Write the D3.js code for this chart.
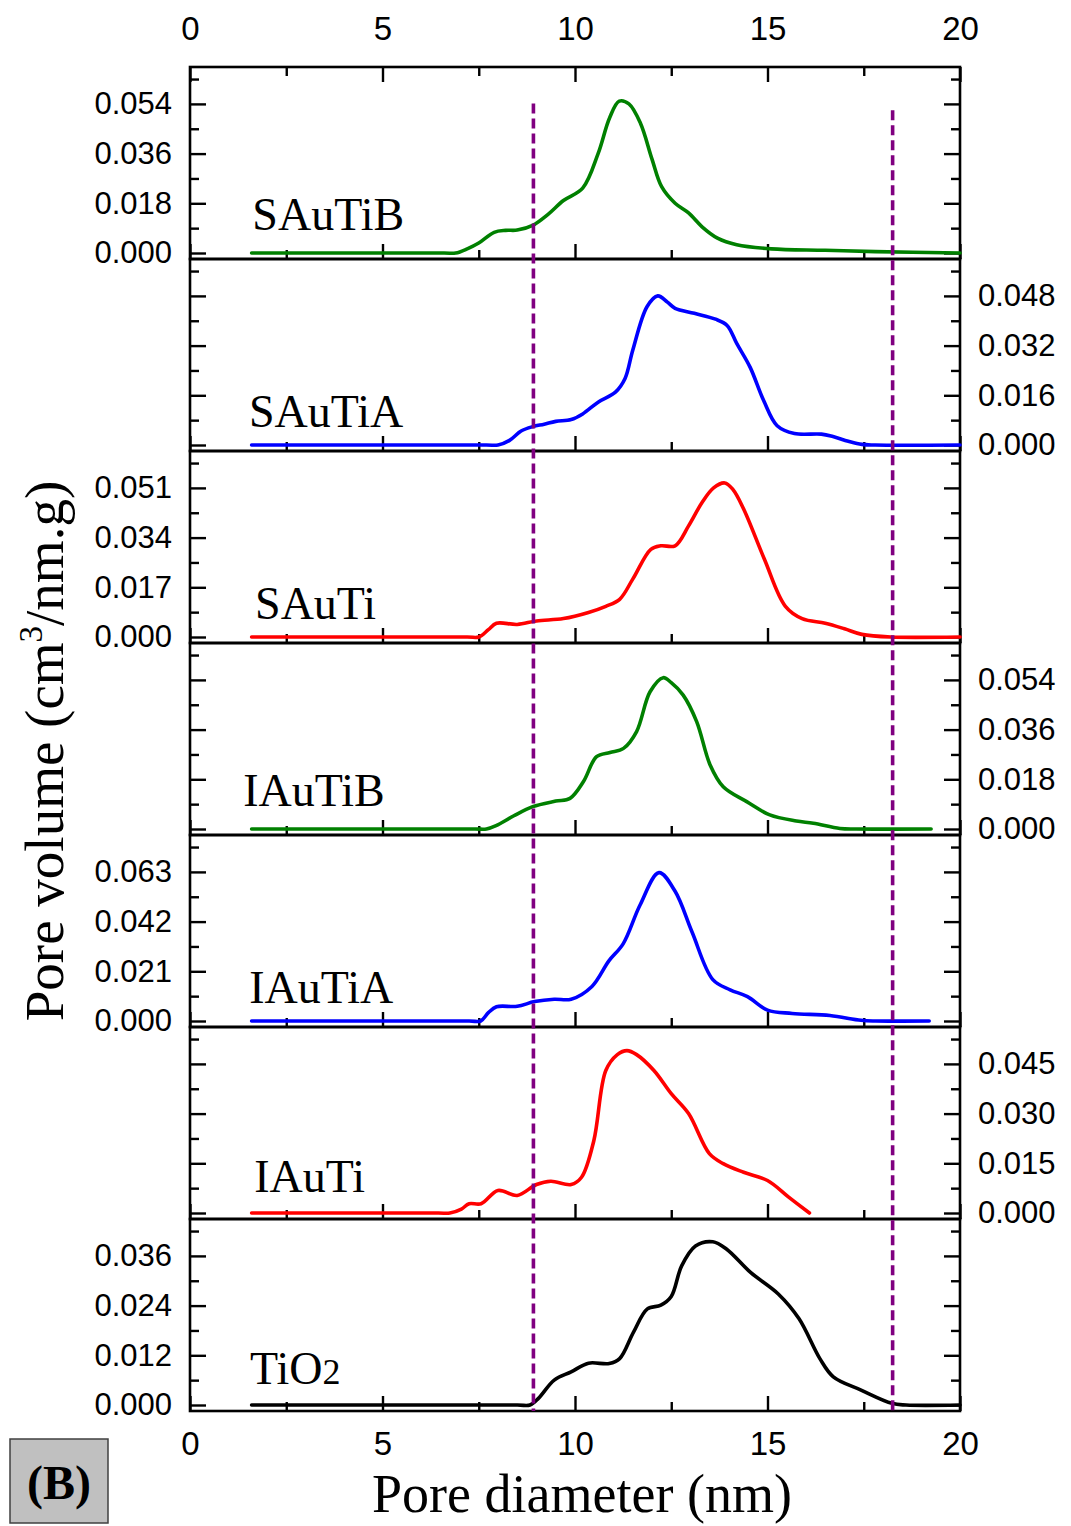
<!DOCTYPE html>
<html><head><meta charset="utf-8">
<script src="https://cdn.jsdelivr.net/npm/d3@7"></script>
<style>body{margin:0;background:#fff} svg{display:block}</style>
</head><body>
<svg id="chart" width="1071" height="1526"></svg>
<script>
// ---------------- DATA ----------------
const panelNames = ["SAuTiB", "SAuTiA", "SAuTi", "IAuTiB", "IAuTiA", "IAuTi", "TiO2"];
const panelColors = ["#008000", "#0000ff", "#ff0000", "#008000", "#0000ff", "#ff0000", "#000000"];
const panelTickSteps = [0.018, 0.016, 0.017, 0.018, 0.021, 0.015, 0.012];
const panelLabelSide = ["left", "right", "left", "right", "left", "right", "left"];
const xTickMajor = [0, 5, 10, 15, 20];
const xTickMinor = [2.5, 7.5, 12.5, 17.5];
const refLineX = [8.92, 18.25];
const refLineTopValue = [0.0541, 0.0517]; // in top panel units

const dSAuTiB = [1.6, 6.6, 6.9, 7.2, 7.5, 7.9, 8.2, 8.5, 8.9, 9.3, 9.7, 10.2, 10.6, 10.9, 11.15, 11.4, 11.7, 12.0, 12.25, 12.6, 12.95, 13.3, 13.7, 14.2, 15.1, 16.5, 17.8, 20];
const vSAuTiB = [0, 0, 0, 0.0015, 0.0036, 0.0075, 0.0082, 0.0083, 0.0100, 0.0140, 0.019, 0.0235, 0.036, 0.049, 0.055, 0.054, 0.047, 0.034, 0.024, 0.018, 0.0145, 0.0095, 0.0054, 0.003, 0.0015, 0.001, 0.0005, 0];

const dSAuTiA = [1.6, 7.7, 8.0, 8.3, 8.6, 8.9, 9.2, 9.5, 9.9, 10.2, 10.6, 11.05, 11.3, 11.5, 11.87, 12.15, 12.4, 12.6, 13.1, 13.65, 13.95, 14.2, 14.55, 14.9, 15.25, 15.7, 16.4, 16.7, 17.1, 17.45, 17.8, 20];
const vSAuTiA = [0, 0, 0, 0.0015, 0.0045, 0.0059, 0.0067, 0.0076, 0.0082, 0.010, 0.0138, 0.017, 0.0214, 0.0305, 0.0445, 0.048, 0.046, 0.044, 0.0424, 0.0405, 0.0385, 0.0327, 0.025, 0.0143, 0.0062, 0.0037, 0.0035, 0.0027, 0.0012, 0.0002, 0, 0];

const dSAuTi = [1.6, 7.2, 7.5, 7.75, 7.96, 8.5, 9.0, 9.7, 10.35, 10.8, 11.16, 11.5, 11.97, 12.23, 12.6, 12.95, 13.3, 13.6, 13.89, 14.1, 14.38, 14.92, 15.46, 15.9, 16.5, 17.0, 17.45, 18.2, 20];
const vSAuTi = [0, 0, 0, 0.0025, 0.0047, 0.0043, 0.0055, 0.0063, 0.0084, 0.0105, 0.0129, 0.0198, 0.030, 0.0312, 0.0312, 0.038, 0.046, 0.051, 0.0527, 0.0505, 0.0438, 0.0266, 0.0106, 0.0063, 0.0047, 0.0028, 0.0009, 0, 0];

const dIAuTiB = [1.6, 7.4, 7.7, 7.95, 8.4, 8.9, 9.5, 9.87, 10.22, 10.56, 10.91, 11.26, 11.6, 11.95, 12.29, 12.5, 12.81, 13.16, 13.51, 13.85, 14.46, 15.06, 15.75, 16.19, 16.88, 17.3, 19.25];
const vIAuTiB = [0, 0, 0, 0.0012, 0.0047, 0.0081, 0.0101, 0.0111, 0.0172, 0.0262, 0.0277, 0.0292, 0.0353, 0.0497, 0.0548, 0.053, 0.0485, 0.0389, 0.0232, 0.0153, 0.0099, 0.0051, 0.0029, 0.0021, 0.0002, 0, 0];

const dIAuTiA = [1.6, 7.25, 7.55, 7.75, 7.96, 8.5, 8.95, 9.46, 9.9, 10.44, 10.88, 11.25, 11.69, 12.18, 12.6, 13.04, 13.58, 14.03, 14.48, 15.0, 15.64, 16.62, 17.43, 17.8, 19.2];
const vIAuTiA = [0, 0, 0, 0.0035, 0.006, 0.0062, 0.0082, 0.0092, 0.0092, 0.0146, 0.0254, 0.0326, 0.049, 0.0627, 0.0548, 0.0376, 0.0175, 0.0132, 0.0103, 0.0046, 0.0032, 0.0023, 0.0003, 0, 0];

const dIAuTi = [1.6, 6.45, 6.75, 7.05, 7.25, 7.56, 8.0, 8.5, 9.0, 9.37, 9.9, 10.17, 10.49, 10.8, 11.1, 11.35, 11.6, 12.05, 12.5, 12.95, 13.49, 13.85, 14.38, 15.0, 15.55, 16.09];
const vIAuTi = [0, 0, 0, 0.0012, 0.0028, 0.0028, 0.0068, 0.0053, 0.0086, 0.0096, 0.0086, 0.0108, 0.0219, 0.043, 0.0478, 0.049, 0.0478, 0.043, 0.036, 0.030, 0.0179, 0.0149, 0.0123, 0.0098, 0.0048, 0.000];

const dTiO2 = [1.6, 8.5, 8.83, 9.05, 9.46, 9.9, 10.35, 10.89, 11.16, 11.52, 11.88, 12.23, 12.5, 12.77, 13.13, 13.58, 13.94, 14.56, 15.28, 15.82, 16.36, 16.71, 17.43, 18.23, 18.6, 20];
const vTiO2 = [0, 0, 0, 0.0016, 0.006, 0.008, 0.0101, 0.010, 0.0112, 0.0176, 0.0232, 0.0241, 0.0262, 0.0336, 0.0384, 0.0394, 0.0376, 0.032, 0.0268, 0.0208, 0.0112, 0.0068, 0.0036, 0.0004, 0, 0];

const seriesX = [dSAuTiB, dSAuTiA, dSAuTi, dIAuTiB, dIAuTiA, dIAuTi, dTiO2];
const seriesY = [vSAuTiB, vSAuTiA, vSAuTi, vIAuTiB, vIAuTiA, vIAuTi, vTiO2];

// ---------------- LAYOUT ----------------
const L = 190, R = 960, T = 67, B = 1411;
const nP = panelNames.length;
const pH = (B - T) / nP;
const stepPx = 49.7;            // pixels per major y-tick
const baseOffPx = 6;            // zero line above panel bottom
const labelXnm = [1.62, 1.53, 1.69, 1.38, 1.54, 1.67, 1.56];
const labelRaise = [29, 24, 24, 29, 24, 27, 27];

const svg = d3.select("#chart");
const x = d3.scaleLinear().domain([0, 20]).range([L, R]);
const fmt = d3.format(".3f");
const sansF = "'Liberation Sans', Arial, sans-serif";
const serifF = "'Liberation Serif', 'Times New Roman', serif";

const yScales = [];
const gAll = svg.append("g");
const blank = () => "";

for (let i = 0; i < nP; i++) {
  const y0 = T + i * pH, y1 = y0 + pH;
  const s = panelTickSteps[i];
  const y = d3.scaleLinear()
    .domain([-baseOffPx / stepPx * s, (pH - baseOffPx) / stepPx * s])
    .range([y1, y0]);
  yScales.push(y);
  const g = gAll.append("g");
  const major = [0, s, 2 * s, 3 * s];
  const minor = [0.5 * s, 1.5 * s, 2.5 * s, 3.5 * s];

  // Left axis
  const la = g.append("g").attr("class", "yax").attr("transform", `translate(${L},0)`);
  la.call(d3.axisLeft(y).tickValues(major).tickSizeInner(-16).tickSizeOuter(0).tickPadding(18)
    .tickFormat(panelLabelSide[i] === "left" ? fmt : blank));
  la.append("g").call(d3.axisLeft(y).tickValues(minor).tickSizeInner(-9).tickSizeOuter(0).tickFormat(blank));
  // Right axis
  const ra = g.append("g").attr("class", "yax").attr("transform", `translate(${R},0)`);
  ra.call(d3.axisRight(y).tickValues(major).tickSizeInner(-16).tickSizeOuter(0).tickPadding(18)
    .tickFormat(panelLabelSide[i] === "right" ? fmt : blank));
  ra.append("g").call(d3.axisRight(y).tickValues(minor).tickSizeInner(-9).tickSizeOuter(0).tickFormat(blank));

  // Bottom x ticks of each panel
  const ba = g.append("g").attr("class", "xax").attr("transform", `translate(0,${y1})`);
  ba.call(d3.axisBottom(x).tickValues(xTickMajor).tickSizeInner(-15).tickSizeOuter(0).tickPadding(21)
    .tickFormat(i === nP - 1 ? d3.format("d") : blank));
  ba.append("g").call(d3.axisBottom(x).tickValues(xTickMinor).tickSizeInner(-9).tickSizeOuter(0).tickFormat(blank));

  if (i === 0) {
    const ta = g.append("g").attr("class", "xax").attr("transform", `translate(0,${y0})`);
    ta.call(d3.axisTop(x).tickValues(xTickMajor).tickSizeInner(-15).tickSizeOuter(0).tickPadding(27).tickFormat(d3.format("d")));
    ta.append("g").call(d3.axisTop(x).tickValues(xTickMinor).tickSizeInner(-9).tickSizeOuter(0).tickFormat(blank));
  }

  // panel frame
  g.append("rect").attr("x", L).attr("y", y0).attr("width", R - L).attr("height", pH)
    .attr("fill", "none").attr("stroke", "#000").attr("stroke-width", 2.6);

  // curve
  const pts = seriesX[i].map((d, k) => [d, seriesY[i][k]]);
  g.append("path").datum(pts)
    .attr("fill", "none").attr("stroke", panelColors[i]).attr("stroke-width", 3.6)
    .attr("stroke-linejoin", "round").attr("stroke-linecap", "round")
    .attr("d", d3.line().x(d => x(d[0])).y(d => y(d[1])).curve(d3.curveCatmullRom.alpha(0.5)));

  // panel label
  const t = g.append("text").attr("x", x(labelXnm[i])).attr("y", y(0) - labelRaise[i] + 6)
    .attr("font-family", serifF).attr("font-size", 46).attr("fill", "#000");
  if (panelNames[i] === "TiO2") {
    t.append("tspan").text("TiO");
    t.append("tspan").attr("font-size", 36).text("2");
  } else {
    t.text(panelNames[i]);
  }
}

// style axes
gAll.selectAll(".domain").remove();
gAll.selectAll(".tick line").attr("stroke", "#000").attr("stroke-width", 2.4);
gAll.selectAll(".yax .tick text").attr("font-family", sansF).attr("font-size", 31).attr("fill", "#000");
gAll.selectAll(".xax .tick text").attr("font-family", sansF).attr("font-size", 33).attr("fill", "#000");

// reference dashed lines
refLineX.forEach((v, k) => {
  svg.append("line")
    .attr("x1", x(v)).attr("x2", x(v))
    .attr("y1", yScales[0](refLineTopValue[k])).attr("y2", B)
    .attr("stroke", "#800080").attr("stroke-width", 3.6)
    .attr("stroke-dasharray", "10,5");
});

// axis titles
svg.append("text").attr("x", 582).attr("y", 1512).attr("text-anchor", "middle")
  .attr("font-family", serifF).attr("font-size", 54).text("Pore diameter (nm)");

const yt = svg.append("text").attr("transform", `translate(63,${(T + B) / 2 + 12}) rotate(-90)`)
  .attr("text-anchor", "middle").attr("font-family", serifF).attr("font-size", 55);
yt.append("tspan").text("Pore volume (cm");
yt.append("tspan").attr("font-size", 33).attr("dy", -21).text("3");
yt.append("tspan").attr("dy", 21).text("/nm.g)");

// (B) box
svg.append("rect").attr("x", 10).attr("y", 1439).attr("width", 98).attr("height", 84)
  .attr("fill", "#c0c0c0").attr("stroke", "#404040").attr("stroke-width", 1.5);
svg.append("text").attr("x", 59).attr("y", 1499).attr("text-anchor", "middle")
  .attr("font-family", serifF).attr("font-weight", "bold").attr("font-size", 48).text("(B)");
</script>
</body></html>
